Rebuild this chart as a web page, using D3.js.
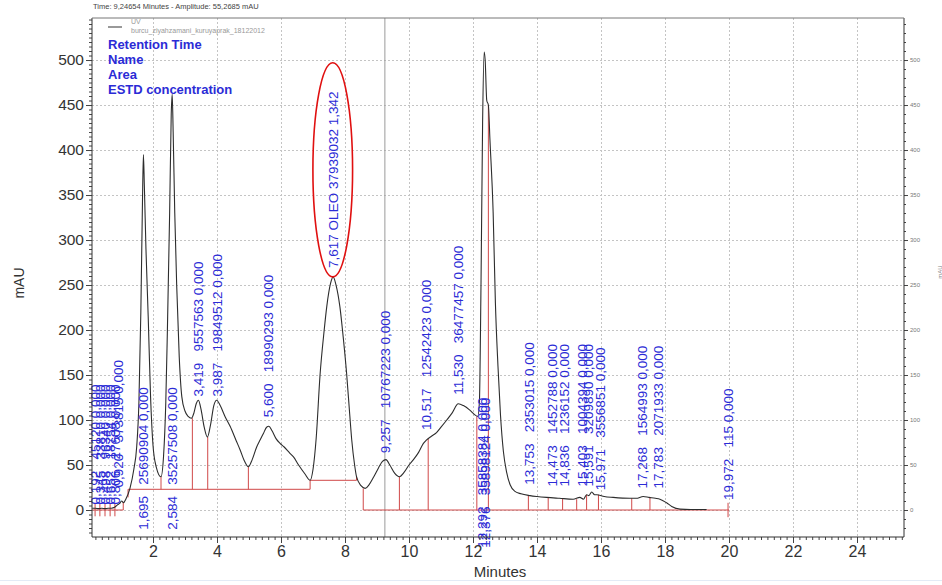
<!DOCTYPE html>
<html>
<head>
<meta charset="utf-8">
<script src="https://cdn.jsdelivr.net/npm/d3@7"></script>
<style>
  body { margin: 0; background: #fff; }
  svg { display: block; font-family: "Liberation Sans", Arial, sans-serif; }
</style>
</head>
<body>
<div id="chart"></div>
<script>
// UV chromatogram, values (minutes / mAU)

const traceTime = [0.10, 0.20, 0.30, 0.40, 0.50, 0.60, 0.70, 0.80, 0.90, 0.95, 1.02, 1.08, 1.15, 1.28, 1.40, 1.49, 1.56, 1.62, 1.67, 1.70,
  1.73, 1.78, 1.85, 1.92, 2.00, 2.10, 2.25, 2.33, 2.40, 2.45, 2.52, 2.57, 2.60, 2.63, 2.68, 2.74, 2.82, 2.90, 3.00, 3.10,
  3.20, 3.28, 3.35, 3.42, 3.50, 3.60, 3.70, 3.80, 3.90, 3.99, 4.10, 4.25, 4.41, 4.60, 4.72, 4.85, 4.98, 5.10, 5.24, 5.35,
  5.45, 5.55, 5.62, 5.72, 5.85, 5.97, 6.10, 6.28, 6.39, 6.55, 6.75, 6.91, 7.00, 7.10, 7.22, 7.35, 7.43, 7.55, 7.63, 7.72,
  7.84, 7.95, 8.05, 8.15, 8.21, 8.30, 8.36, 8.50, 8.63, 8.75, 8.90, 9.05, 9.17, 9.28, 9.40, 9.55, 9.70, 9.85, 10.00, 10.14,
  10.30, 10.45, 10.55, 10.70, 10.86, 11.00, 11.18, 11.35, 11.54, 11.70, 11.90, 12.05, 12.15, 12.20, 12.25, 12.30, 12.35, 12.38, 12.43, 12.48,
  12.53, 12.63, 12.70, 12.78, 12.86, 12.95, 13.05, 13.16, 13.30, 13.50, 13.78, 14.00, 14.30, 14.70, 15.13, 15.34, 15.45, 15.55, 15.62, 15.71,
  15.80, 15.87, 16.10, 16.38, 16.90, 17.10, 17.32, 17.50, 17.70, 17.84, 18.05, 18.21, 18.47, 18.80, 19.30];
const traceMAU = [2, 2, 1.5, 2, 1.5, 2, 2, 3, 6, 7, 10, 8, 12, 24, 45, 70, 120, 220, 340, 395,
  360, 290, 215, 130, 72, 48, 37, 60, 120, 200, 330, 440, 462, 420, 330, 250, 170, 126, 110, 104,
  102, 108, 118, 122, 112, 92, 81, 95, 116, 122, 116, 104, 93, 77, 67, 55, 48, 56, 70, 78,
  85, 92, 93, 88, 79, 74, 70, 63, 59, 50, 40, 33, 45, 80, 150, 200, 226, 252, 259, 250,
  226, 190, 152, 105, 78, 50, 37, 27, 24, 28, 37, 47, 54, 56, 50, 41, 37, 42, 50, 56,
  64, 74, 78, 82, 86, 92, 100, 108, 118, 116, 111, 106, 104, 120, 250, 430, 509, 500, 455, 450,
  411, 330, 230, 160, 105, 65, 42, 28, 21, 18, 16, 15, 14, 13, 12, 14, 12, 17, 16, 20,
  17, 17, 15, 14, 13, 13, 15, 14, 13, 12, 8, 4, 1, 0.5, 0.5];

// peak table: retention time, name, area, ESTD concentration
const peakRT = ['0,192', '0,345', '0,498', '0,652', '0,806', '0,920', '1,695', '2,584', '3,419', '3,987', '5,600', '7,617', '9,257',
  '10,517', '11,530', '12,292', '12,376', '13,753', '14,473', '14,836', '15,403', '15,591', '15,971', '17,268', '17,783', '19,972'];
const peakName = ['', '', '', '', '', '', '', '', '', '', '', 'OLEO', '', '', '', '', '', '', '', '', '', '', '', '', '', ''];
const peakArea = ['45120', '33810', '96340', '18754', '27608', '373815', '25690904', '35257508', '9557563', '19849512', '18990293', '37939032',
  '10767223', '12542423', '36477457', '35858384', '35898124', '2353015', '1452788', '1236152', '1004394', '3209890', '3556851',
  '1564993', '2071933', '115'];
const peakConc = ['0,000', '0,000', '0,000', '0,000', '0,000', '0,000', '0,000', '0,000', '0,000', '0,000', '0,000', '1,342', '0,000',
  '0,000', '0,000', '0,000', '0,000', '0,000', '0,000', '0,000', '0,000', '0,000', '0,000', '0,000', '0,000', '0,000'];
// mAU level where each vertical label begins
const labelAt = [6, 6, 6, 6, 6, 25, -22, -22, 126, 126, 103, 269, 63, 89, 128, -42, -42, 28, 26, 26, 26, 26, 22, 24, 24, 11];

// integration baselines and drop lines
const baseStart = [0.1, 1.22, 6.91, 8.57];
const baseEnd = [1.07, 6.91, 8.36, 20.0];
const baseLevel = [0, 23, 33, 0];

const dropTime = [0.19, 0.34, 0.50, 0.66, 0.81, 1.07, 1.22, 2.25, 3.23, 3.71, 4.98, 6.91, 8.36, 8.57, 9.70, 10.60, 12.12, 12.48,
  13.73, 14.35, 14.80, 15.24, 15.55, 15.92, 16.96, 17.53, 19.97];
const dropFrom = [-7, -7, -7, -7, -7, 0, 14, 23, 23, 23, 23, 23, 33, 0, 0, 0, 0, 0, 0, 0, 0, 0, 0, 0, 0, 0, -8];
const dropTo = [7, 7, 7, 7, 7, 9, 23, 37, 102, 81, 48, 33, 37, 24, 37, 79, 104, 450, 16, 14, 13, 12, 17, 17, 13, 14, 8];

const xTicks = [2, 4, 6, 8, 10, 12, 14, 16, 18, 20, 22, 24];
const yTicks = [0, 50, 100, 150, 200, 250, 300, 350, 400, 450, 500];

const cursorTime = 9.24654;
const highlightRT = 7.617;
const highlightLow = 259, highlightHigh = 497, highlightHalfWidth = 0.62;

const headerText = 'Time:  9,24654 Minutes  -  Amplitude:  55,2685 mAU';
const traceName = 'UV';
const traceFile = 'burcu_ziyahzamani_kuruyaprak_18122012';
const legendRows = ['Retention Time', 'Name', 'Area', 'ESTD concentration'];

const W = 942, H = 585;
const plot = { left: 92, right: 904, top: 18, bottom: 537 };

const svg = d3.select('#chart').append('svg').attr('width', W).attr('height', H);

const x = d3.scaleLinear().domain([0, 25.5]).range([89, 905]);
const y = d3.scaleLinear().domain([-30, 546.7]).range([plot.bottom, plot.top]);

const blue = '#2b2bd6';
const red = '#d04848';

// grid
const grid = svg.append('g').attr('stroke', '#c4c4c4').attr('stroke-dasharray', '2,2').attr('stroke-width', 1);
grid.selectAll('.gy').data(yTicks).enter().append('line')
  .attr('x1', plot.left).attr('x2', plot.right)
  .attr('y1', d => Math.round(y(d)) + 0.5).attr('y2', d => Math.round(y(d)) + 0.5);
grid.selectAll('.gx').data(xTicks).enter().append('line')
  .attr('y1', plot.top).attr('y2', plot.bottom)
  .attr('x1', d => Math.round(x(d)) + 0.5).attr('x2', d => Math.round(x(d)) + 0.5);

// cursor line
svg.append('line')
  .attr('x1', x(cursorTime)).attr('x2', x(cursorTime))
  .attr('y1', plot.top).attr('y2', plot.bottom)
  .attr('stroke', '#9a9a9a').attr('stroke-width', 1);

// baselines
const bl = svg.append('g').attr('stroke', red).attr('stroke-width', 1).attr('fill', 'none');
baseStart.forEach((s, i) => {
  bl.append('line')
    .attr('x1', x(s)).attr('x2', x(baseEnd[i]))
    .attr('y1', y(baseLevel[i])).attr('y2', y(baseLevel[i]));
});
dropTime.forEach((t, i) => {
  bl.append('line')
    .attr('x1', x(t)).attr('x2', x(t))
    .attr('y1', y(dropFrom[i])).attr('y2', y(dropTo[i]));
});

// trace
const line = d3.line()
  .x(d => x(d[0]))
  .y(d => y(d[1]))
  .curve(d3.curveMonotoneX);
svg.append('path')
  .datum(d3.zip(traceTime, traceMAU))
  .attr('d', line)
  .attr('fill', 'none')
  .attr('stroke', '#2d2d2d')
  .attr('stroke-width', 1.1);

// peak labels (vertical)
peakRT.forEach((rt, i) => {
  const t = +rt.replace(',', '.');
  const txt = [rt, peakName[i] || ' ', peakArea[i], peakConc[i]].join(' ');
  svg.append('text')
    .attr('transform', `translate(${x(t) + 5},${y(labelAt[i])}) rotate(-90)`)
    .attr('xml:space', 'preserve')
    .style('white-space', 'pre')
    .style('font-size', '13.5px')
    .attr('fill', blue)
    .text(txt);
});

// red ellipse round the identified peak
svg.append('ellipse')
  .attr('cx', x(highlightRT))
  .attr('cy', (y(highlightLow) + y(highlightHigh)) / 2)
  .attr('rx', x(highlightRT + highlightHalfWidth) - x(highlightRT))
  .attr('ry', (y(highlightLow) - y(highlightHigh)) / 2)
  .attr('fill', 'none')
  .attr('stroke', '#e01010')
  .attr('stroke-width', 1.6);

// axes
const axisG = svg.append('g').style('font-family', '"Liberation Sans", Arial, sans-serif');

const left = axisG.append('g').attr('transform', `translate(${plot.left},0)`)
  .call(d3.axisLeft(y).tickValues(yTicks).tickSize(6).tickPadding(2));
axisG.append('g').attr('transform', `translate(${plot.left},0)`)
  .call(d3.axisLeft(y).tickValues(d3.range(-25, 546, 5)).tickSize(3).tickFormat(''));

const bottom = axisG.append('g').attr('transform', `translate(0,${plot.bottom})`)
  .call(d3.axisBottom(x).tickValues(xTicks).tickSize(6).tickPadding(3));
axisG.append('g').attr('transform', `translate(0,${plot.bottom})`)
  .call(d3.axisBottom(x).tickValues(d3.range(0.2, 25.41, 0.2)).tickSize(3).tickFormat(''));

const right = axisG.append('g').attr('transform', `translate(${plot.right},0)`)
  .call(d3.axisRight(y).tickValues(yTicks).tickSize(4).tickPadding(2));
axisG.append('g').attr('transform', `translate(${plot.right},0)`)
  .call(d3.axisRight(y).tickValues(d3.range(-20, 546, 10)).tickSize(2).tickFormat(''));

axisG.selectAll('.domain').remove();
axisG.selectAll('.tick line').attr('stroke', '#444');
left.selectAll('text').style('font-size', '15.5px').attr('fill', '#333');
bottom.selectAll('text').style('font-size', '16px').attr('fill', '#333');
right.selectAll('text').style('font-size', '6px').attr('fill', '#777');

// frame
const frame = svg.append('g').attr('stroke', '#333').attr('stroke-width', 1);
frame.append('line').attr('x1', plot.left).attr('x2', plot.left).attr('y1', plot.top).attr('y2', plot.bottom);
frame.append('line').attr('x1', plot.left).attr('x2', plot.right).attr('y1', plot.bottom).attr('y2', plot.bottom);
frame.append('line').attr('x1', plot.right).attr('x2', plot.right).attr('y1', plot.top).attr('y2', plot.bottom);
frame.append('line').attr('x1', plot.left).attr('x2', plot.right).attr('y1', plot.top).attr('y2', plot.top).attr('stroke', '#777');

// titles
svg.append('text').attr('x', 500).attr('y', 577).attr('text-anchor', 'middle')
  .style('font-size', '15px').attr('fill', '#333').text('Minutes');
svg.append('text').attr('transform', `translate(24,283) rotate(-90)`).attr('text-anchor', 'middle')
  .style('font-size', '14px').attr('fill', '#333').text('mAU');
svg.append('text').attr('transform', `translate(942,272) rotate(-90)`).attr('text-anchor', 'middle')
  .style('font-size', '6px').attr('fill', '#888').text('mAU');

svg.append('text').attr('x', 93).attr('y', 9)
  .style('font-size', '7.5px').attr('fill', '#444').text(headerText);

// legend
svg.append('line').attr('x1', 108).attr('x2', 122).attr('y1', 27).attr('y2', 27)
  .attr('stroke', '#555').attr('stroke-width', 1.2);
svg.append('text').attr('x', 131).attr('y', 24).style('font-size', '7px').attr('fill', '#999').text(traceName);
svg.append('text').attr('x', 131).attr('y', 33).style('font-size', '7px').attr('fill', '#999').text(traceFile);

svg.selectAll('.legrow').data(legendRows).enter().append('text')
  .attr('x', 108)
  .attr('y', (d, i) => 49 + i * 15)
  .style('font-size', '13px')
  .style('font-weight', 'bold')
  .attr('fill', blue)
  .text(d => d);

// page edge line at the bottom
svg.append('line').attr('x1', 0).attr('x2', W).attr('y1', 580.5).attr('y2', 580.5)
  .attr('stroke', '#e3ebf6').attr('stroke-width', 1);
</script>
</body>
</html>
